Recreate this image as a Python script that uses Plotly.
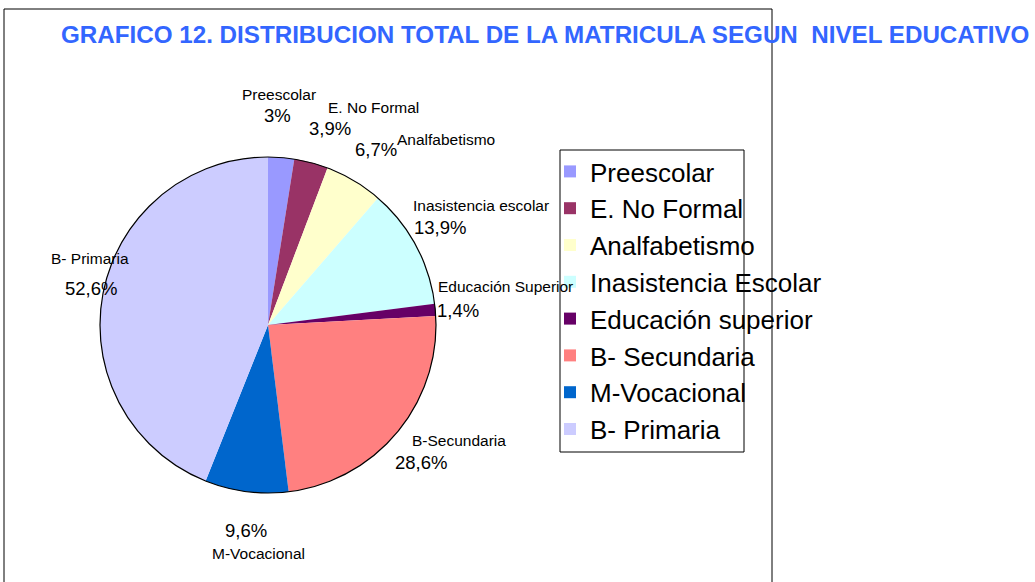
import plotly.graph_objects as go

# ---- data ----
legend_labels = ["Preescolar", "E. No Formal", "Analfabetismo", "Inasistencia Escolar",
                 "Educación superior", "B- Secundaria", "M-Vocacional", "B- Primaria"]
slice_names = ["Preescolar", "E. No Formal", "Analfabetismo", "Inasistencia escolar",
               "Educación Superior", "B-Secundaria", "M-Vocacional", "B- Primaria"]
values = [3, 3.9, 6.7, 13.9, 1.4, 28.6, 9.6, 52.6]
pct_text = ["3%", "3,9%", "6,7%", "13,9%", "1,4%", "28,6%", "9,6%", "52,6%"]
colors = ["#9999FF", "#993366", "#FFFFCC", "#CCFFFF", "#660066", "#FF8080", "#0066CC", "#CCCCFF"]

W, H = 1035, 582
def px(x):
    return x / W
def py(y):
    return 1 - y / H

# pie geometry (pixels)
cx, cy, r = 268, 325, 168

fig = go.Figure()
fig.add_trace(go.Pie(
    labels=legend_labels, values=values, sort=False, direction="clockwise", rotation=0,
    marker=dict(colors=colors, line=dict(width=0)),
    textinfo="none", hoverinfo="label+percent",
    domain=dict(x=[px(cx - r), px(cx + r)], y=[py(cy + r), py(cy - r)]),
))

# label positions (pixel centres): name line, percent line
name_pos = [(279, 95), (373, 107), (446, 139), (481, 205), (505, 286), (459, 440), (258, 553), (90, 258)]
pct_pos = [(277, 116), (330, 128), (376, 149), (440, 228), (458, 310), (421, 462), (246, 530), (91, 288)]

annotations = []
for name, (nx, ny) in zip(slice_names, name_pos):
    annotations.append(dict(x=px(nx), y=py(ny), xref="paper", yref="paper", text=name,
                            showarrow=False, xanchor="center", yanchor="middle",
                            font=dict(family="Liberation Sans, Arial", size=15.5, color="#000")))
for t, (tx, ty) in zip(pct_text, pct_pos):
    annotations.append(dict(x=px(tx), y=py(ty), xref="paper", yref="paper", text=t,
                            showarrow=False, xanchor="center", yanchor="middle",
                            font=dict(family="Liberation Sans, Arial", size=18.5, color="#000")))

annotations.append(dict(x=px(545), y=py(34), xref="paper", yref="paper",
                        text="GRAFICO 12. DISTRIBUCION TOTAL DE LA MATRICULA SEGUN&nbsp; NIVEL EDUCATIVO",
                        showarrow=False, xanchor="center", yanchor="middle",
                        font=dict(family="Liberation Sans, Arial", size=24.2, color="#3366FF", weight="bold")))

shapes = [
    # outer frame
    dict(type="line", xref="paper", yref="paper", x0=px(4), x1=px(4), y0=py(9), y1=py(590),
         line=dict(color="#000", width=1)),
    dict(type="line", xref="paper", yref="paper", x0=px(4), x1=px(772), y0=py(9), y1=py(9),
         line=dict(color="#000", width=1)),
    dict(type="line", xref="paper", yref="paper", x0=px(772), x1=px(772), y0=py(9), y1=py(590),
         line=dict(color="#000", width=1)),
    # pie outline
    dict(type="circle", xref="paper", yref="paper", x0=px(cx - r), x1=px(cx + r),
         y0=py(cy + r), y1=py(cy - r), line=dict(color="#000", width=1.2), layer="above"),
    # legend box
    dict(type="rect", xref="paper", yref="paper", x0=px(560), x1=px(744), y0=py(150), y1=py(452),
         line=dict(color="#000", width=1)),
]

fig.update_layout(
    width=W, height=H, margin=dict(l=0, r=0, t=0, b=0),
    paper_bgcolor="white", plot_bgcolor="white",
    showlegend=True,
    legend=dict(x=px(550), y=py(148), xanchor="left", yanchor="top",
                bgcolor="rgba(0,0,0,0)", borderwidth=0,
                font=dict(family="Liberation Sans, Arial", size=26, color="#000"),
                itemwidth=30, tracegroupgap=0),
    annotations=annotations, shapes=shapes,
)

fig.write_html("out.html", config={"displayModeBar": False},
               post_script="document.body.style.margin='0px';")
